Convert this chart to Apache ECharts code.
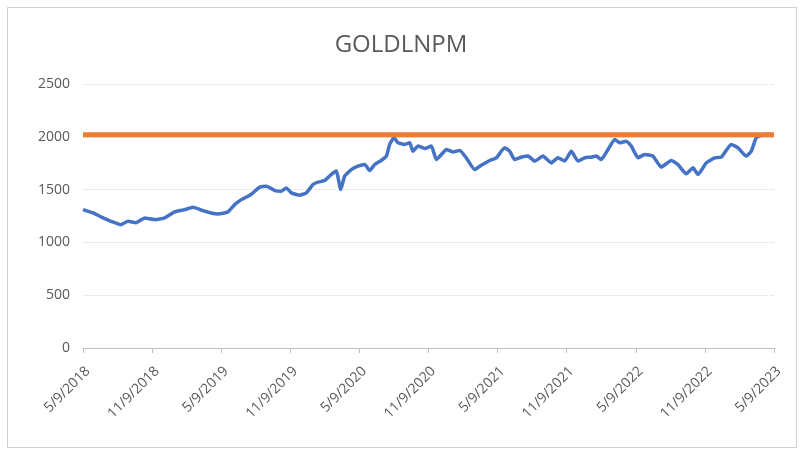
<!DOCTYPE html>
<html>
<head>
<meta charset="utf-8">
<script src="https://cdn.jsdelivr.net/npm/echarts@6/dist/echarts.min.js"></script>
<style>
  html, body { margin: 0; padding: 0; background: #fff; }
  #chart { width: 802px; height: 451px; }
</style>
</head>
<body>
<div id="chart"></div>
<script>
// months since 5/9/2018
var months = [0, 0.87, 1.74, 2.43, 3.27, 3.91, 4.6, 5.36, 6.23, 7.09, 7.96, 8.83, 9.55, 10.42,
  11.11, 11.72, 12.59, 13.17, 13.75, 14.33, 14.76, 15.34, 15.92, 16.65, 17.22, 17.65, 18.09,
  18.82, 19.39, 19.97, 20.4, 20.99, 21.56, 21.99, 22.38, 22.72, 23.3, 23.88, 24.46, 24.89,
  25.33, 25.9, 26.34, 26.63, 27.0, 27.35, 27.93, 28.37, 28.65, 29.09, 29.67, 30.24, 30.68,
  31.26, 31.54, 32.13, 32.71, 33.28, 34.01, 34.58, 35.31, 35.89, 36.61, 37.05, 37.48, 38.06,
  38.64, 39.22, 39.94, 40.66, 41.24, 41.82, 42.4, 42.98, 43.56, 44.13, 44.57, 45.0, 45.59,
  46.17, 46.6, 47.17, 47.61, 48.19, 48.77, 49.49, 50.21, 51.08, 51.66, 52.38, 52.97, 53.4,
  54.12, 54.85, 55.42, 56.29, 56.87, 57.59, 58.03, 58.46, 59.19, 60];
var gold = [1310, 1279, 1232, 1200, 1168, 1200, 1187, 1232, 1216, 1232, 1289, 1310, 1332, 1301,
  1279, 1269, 1289, 1358, 1405, 1437, 1469, 1523, 1532, 1491, 1485, 1516, 1469,
  1447, 1469, 1548, 1570, 1586, 1643, 1675, 1500, 1627, 1690, 1722, 1738, 1681,
  1738, 1776, 1817, 1928, 1991, 1943, 1928, 1943, 1864, 1912, 1890, 1912, 1785,
  1849, 1880, 1857, 1871, 1801, 1690, 1731, 1776, 1801, 1896, 1864, 1785, 1807,
  1817, 1770, 1817, 1753, 1801, 1770, 1864, 1770, 1801, 1807, 1817, 1785, 1880,
  1975, 1943, 1959, 1912, 1801, 1833, 1817, 1713, 1776, 1738, 1649, 1706, 1643,
  1753, 1801, 1807, 1928, 1896, 1817, 1864, 1991, 2023, 2020];
var levelMonths = [0, 60];
var level = [2020, 2020];
var tickLabels = ['5/9/2018', '11/9/2018', '5/9/2019', '11/9/2019', '5/9/2020', '11/9/2020',
  '5/9/2021', '11/9/2021', '5/9/2022', '11/9/2022', '5/9/2023'];

var font = '"Open Sans", "Liberation Sans", sans-serif';
var chart = echarts.init(document.getElementById('chart'));

chart.setOption({
  animation: false,
  backgroundColor: '#fff',
  title: {
    text: 'GOLDLNPM',
    left: 'center',
    top: 28,
    textStyle: { fontFamily: font, fontSize: 24, fontWeight: 'normal', color: '#595959' }
  },
  graphic: [{
    type: 'rect',
    shape: { x: 7.5, y: 7.5, width: 789, height: 440 },
    style: { fill: 'none', stroke: '#d0d0d0', lineWidth: 1 },
    silent: true
  }],
  grid: { left: 83, right: 28, top: 84, bottom: 103 },
  xAxis: {
    type: 'value',
    min: 0,
    max: 60,
    interval: 6,
    axisLine: { show: true, onZero: true, lineStyle: { color: '#bfbfbf', width: 1 } },
    axisTick: { show: true, length: 5, lineStyle: { color: '#bfbfbf' } },
    splitLine: { show: false },
    axisLabel: {
      rotate: 45,
      margin: 16,
      verticalAlign: 'top',
      fontFamily: font,
      fontSize: 14,
      color: '#595959',
      formatter: function (v) { return tickLabels[Math.round(v / 6)] || ''; }
    }
  },
  yAxis: {
    type: 'value',
    min: 0,
    max: 2500,
    interval: 500,
    axisLine: { show: false },
    axisTick: { show: false },
    axisLabel: {
      fontFamily: font, fontSize: 14, color: '#595959', margin: 13,
      formatter: function (v) { return String(v); }
    },
    splitLine: { lineStyle: { color: '#d9d9d9', type: 'dotted', width: 1 } }
  },
  series: [
    {
      name: 'GOLDLNPM',
      type: 'line',
      data: months.map(function (m, i) { return [m, gold[i]]; }),
      showSymbol: false,
      smooth: 0.15,
      lineStyle: { color: '#4472c4', width: 3.5 },
      z: 3
    },
    {
      name: 'Level',
      type: 'line',
      data: levelMonths.map(function (m, i) { return [m, level[i]]; }),
      showSymbol: false,
      lineStyle: { color: '#ed7d31', width: 5 },
      z: 4
    }
  ]
});
</script>
</body>
</html>
